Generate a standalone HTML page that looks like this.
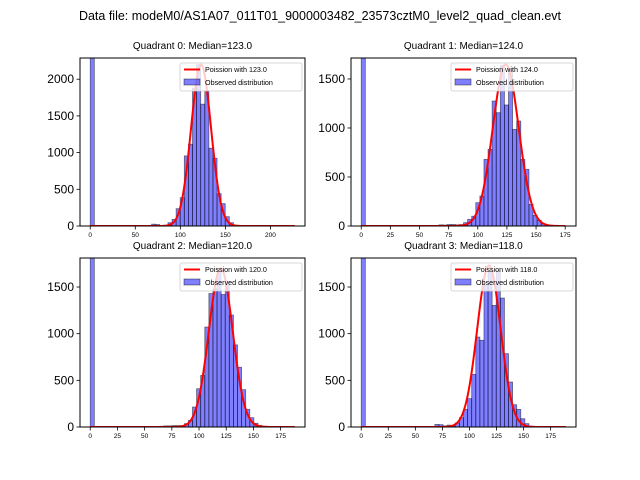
<!DOCTYPE html>
<html><head><meta charset="utf-8"><style>
body{margin:0;background:#fff;}
svg{display:block;font-family:"Liberation Sans","DejaVu Sans",sans-serif;}
</style></head><body>
<svg id="fig" width="640" height="480" viewBox="0 0 640 480">
<text x="320" y="20" font-size="12.5" text-anchor="middle">Data file: modeM0/AS1A07_011T01_9000003482_23573cztM0_level2_quad_clean.evt</text>
</svg>
<script>
// Data per quadrant
const medians = [123.0, 124.0, 120.0, 118.0];
const dataRanges = [227, 175.5, 188, 189];
const yMaxes = [2289, 1714, 1811, 1811];
const yTicks0 = [0, 500, 1000, 1500, 2000];
const yTicks123 = [0, 500, 1000, 1500];
const xTicks0 = [0, 50, 100, 150, 200];
const xTicks123 = [0, 25, 50, 75, 100, 125, 150, 175];
const curvePeaks = [2200, 1650, 1700, 1730];
// histogram counts: [binIndex, count] (50 bins over each data range)
const counts0 = [[0,5000],[15,25],[16,20],[17,5],[18,10],[19,45],[20,90],[21,236],[22,386],[23,955],[24,1114],[25,1880],[26,2200],[27,1660],[28,1850],[29,1060],[30,923],[31,441],[32,305],[33,127],[34,45],[35,10]];
const counts1 = [[0,5000],[19,12],[20,10],[21,15],[22,15],[23,12],[24,15],[25,34],[26,68],[27,100],[28,238],[29,306],[30,680],[31,782],[32,1275],[33,1156],[34,1640],[35,1235],[36,1600],[37,986],[38,1071],[39,680],[40,578],[41,221],[42,108],[43,58],[44,24],[45,10]];
const counts2 = [[0,5000],[17,8],[18,12],[19,12],[20,15],[21,15],[22,15],[23,36],[24,71],[25,214],[26,410],[27,553],[28,1071],[29,1430],[30,1480],[31,1700],[32,1420],[33,1560],[34,1200],[35,880],[36,640],[37,400],[38,189],[39,100],[40,40],[41,18],[42,8]];
const counts3 = [[0,5000],[18,28],[19,25],[20,12],[21,20],[22,10],[23,43],[24,100],[25,189],[26,304],[27,564],[28,964],[29,929],[30,1518],[31,1680],[32,1303],[33,1680],[34,1382],[35,786],[36,482],[37,239],[38,189],[39,89],[40,36],[41,10]];
const allCounts = [counts0, counts1, counts2, counts3];

const NS = "http://www.w3.org/2000/svg";
const fig = document.getElementById('fig');
const boxes = [[80,58,305,226],[351,58,576,226],[80,258,305,427],[351,258,576,427]];
function mk(tag, attrs, parent){const e=document.createElementNS(NS,tag);for(const k in attrs)e.setAttribute(k,attrs[k]);(parent||fig).appendChild(e);return e;}

for(let q=0;q<4;q++){
  const [L,T,R,B]=boxes[q];
  const range=dataRanges[q], pad=range*0.05;
  const x0=-pad, x1=range+pad;
  const xs=v=>L+(v-x0)/(x1-x0)*(R-L);
  const ys=v=>B-v/yMaxes[q]*(B-T);
  const g=mk('g',{});
  
  
  const cid='clip'+q;
  const cp=mk('clipPath',{id:cid},g);mk('rect',{x:L,y:T,width:R-L,height:B-T},cp);
  const t=mk('text',{x:(L+R)/2,y:T-9,'font-size':10,'text-anchor':'middle'},g);
  t.textContent='Quadrant '+q+': Median='+medians[q].toFixed(1);
  
  
  const plot=mk('g',{'clip-path':'url(#'+cid+')'},g);
  const bw=range/50;
  allCounts[q].forEach(([bi,c])=>{
    const r=mk('rect',{x:xs(bi*bw),y:ys(c),width:xs(bw)-xs(0),height:B-ys(c),fill:'rgba(0,0,255,0.5)',stroke:'rgba(0,0,0,0.5)','stroke-width':0.8},plot);
    
    
  });
  // Poisson model curve (normal approx)
  const lam=medians[q], sd=Math.sqrt(lam);
  let d='';
  for(let k=0;k<=Math.floor(range);k++){
    const v=curvePeaks[q]*Math.exp(-Math.pow(k-lam,2)/(2*sd*sd));
    d+=(k?'L':'M')+xs(k).toFixed(2)+','+ys(v).toFixed(2);
  }
  const pl=mk('path',{d:d,fill:'none',stroke:'#f00','stroke-width':2},plot);
  
  
  mk('rect',{x:L,y:T,width:R-L,height:B-T,fill:'none',stroke:'#000','stroke-width':1},g);
  const xt=q===0?xTicks0:xTicks123;
  xt.forEach(v=>{
    mk('line',{x1:xs(v),x2:xs(v),y1:B,y2:B+3.5,stroke:'#000','stroke-width':0.8},g);
    const tt=mk('text',{x:xs(v),y:B+11,'font-size':6.5,'text-anchor':'middle'},g);tt.textContent=v;
    
    
  });
  const yt=q===0?yTicks0:yTicks123;
  yt.forEach(v=>{
    mk('line',{x1:L-3.5,x2:L,y1:ys(v),y2:ys(v),stroke:'#000','stroke-width':0.8},g);
    const tt=mk('text',{x:L-6,y:ys(v)+4,'font-size':12,'text-anchor':'end'},g);tt.textContent=v;
    
    
  });
  // legend
  const lg=mk('g',{},g);
  
  
  mk('rect',{x:R-125,y:T+5,width:122,height:28,fill:'rgba(255,255,255,0.8)',stroke:'#ccc','stroke-width':0.8,rx:2},lg);
  mk('line',{x1:R-121,x2:R-105,y1:T+11.5,y2:T+11.5,stroke:'#f00','stroke-width':2},lg);
  const l1=mk('text',{x:R-100,y:T+14,'font-size':7.2},lg);l1.textContent='Poission with '+medians[q].toFixed(1);
  mk('rect',{x:R-121,y:T+21,width:16,height:6,fill:'rgba(0,0,255,0.5)',stroke:'rgba(0,0,0,0.5)','stroke-width':0.8},lg);
  const l2=mk('text',{x:R-100,y:T+27,'font-size':7.2},lg);l2.textContent='Observed distribution';
}
</script>
</body></html>
